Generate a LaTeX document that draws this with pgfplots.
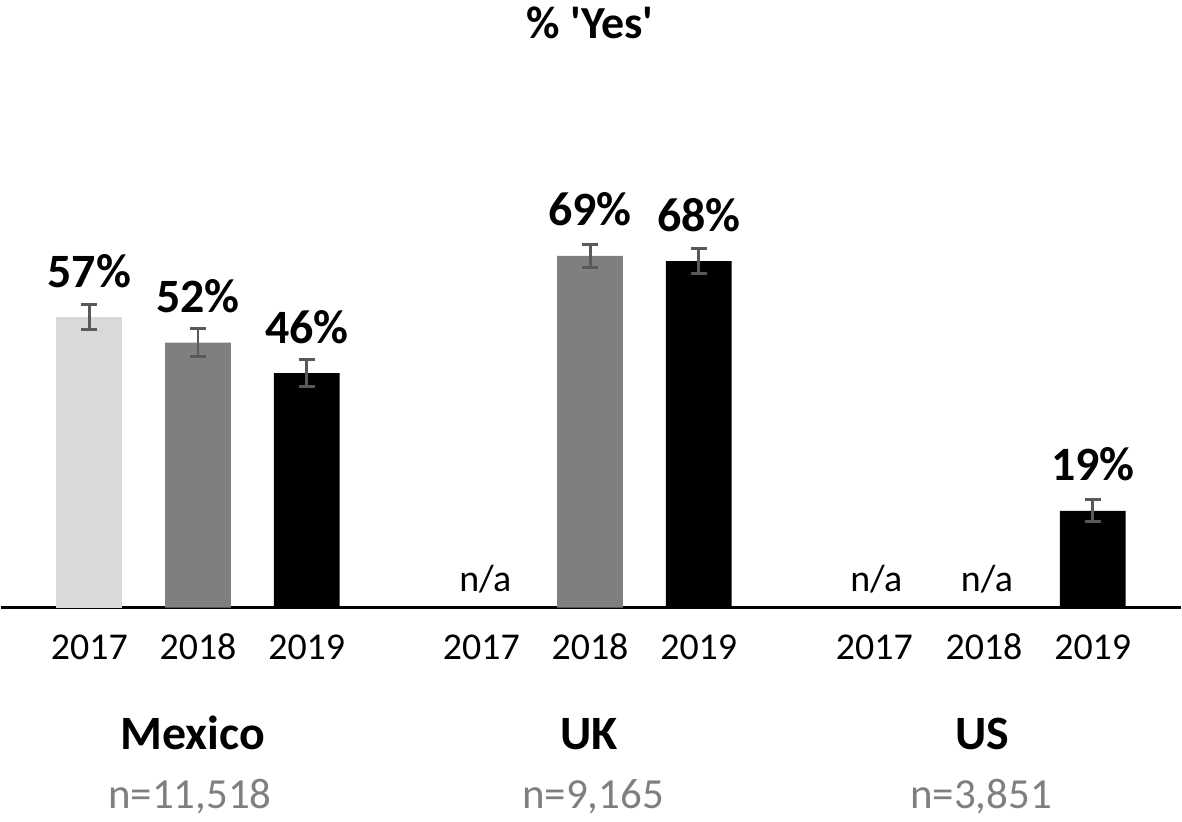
\documentclass[border=0pt]{standalone}
\usepackage{fontspec}
\setmainfont{Carlito}
\usepackage{pgfplots}
\pgfplotsset{compat=1.18}
\usepackage{pgfplotstable}

\pgfplotstableread{
x y e
88 57 2.5
}\dataA
\pgfplotstableread{
x y e
197 52 2.7
590 69 2.3
}\dataB
\pgfplotstableread{
x y e
306 46 2.6
699 68 2.5
1094 19 2.2
}\dataC

\definecolor{c17}{HTML}{D9D9D9}
\definecolor{c18}{HTML}{7F7F7F}
\definecolor{errc}{HTML}{595959}
\definecolor{ngray}{HTML}{7F7F7F}

\begin{document}
\begin{tikzpicture}
\begin{axis}[
 x=0.5pt, y=2.555pt,
 xmin=0, xmax=1182, ymin=0, ymax=119,
 axis x line*=bottom, axis y line=none,
 x axis line style={line width=1.5pt},
 xtick={88,197,306,481,590,699,875,985,1094},
 xticklabels={2017,2018,2019,2017,2018,2019,2017,2018,2019},
 xticklabel style={anchor=base, yshift=-26pt, font=\fontsize{19}{20}\selectfont},
 major tick length=0pt,
 ytick=\empty,
 clip=false,
 ybar, bar width=33pt,
 /pgf/bar shift=0pt,
 nodes near coords={\pgfmathprintnumber{\pgfplotspointmeta}\%},
 nodes near coords style={anchor=base, yshift=15pt, font=\bfseries\fontsize{24}{26}\selectfont, text=black},
 /pgf/number format/assume math mode=true,
 error bars/y dir=both, error bars/y explicit,
 error bars/error bar style={line width=1.5pt, color=errc},
 error bars/error mark options={rotate=90, mark size=4pt, line width=1.5pt, color=errc},
]
\addplot[fill=c17, draw=none, bar shift=0pt] table[x=x, y=y, y error=e]{\dataA};
\addplot[fill=c18, draw=none, bar shift=0pt] table[x=x, y=y, y error=e]{\dataB};
\addplot[fill=black, draw=none, bar shift=0pt] table[x=x, y=y, y error=e]{\dataC};

\node[font=\bfseries\fontsize{23}{25}\selectfont, anchor=base] at (axis cs:590,111.7) {\% \textquotesingle Yes\textquotesingle};

\node[font=\fontsize{19}{20}\selectfont, anchor=base] at (axis cs:485,3.13) {n/a};
\node[font=\fontsize{19}{20}\selectfont, anchor=base] at (axis cs:877,3.13) {n/a};
\node[font=\fontsize{19}{20}\selectfont, anchor=base] at (axis cs:988,3.13) {n/a};

\node[font=\bfseries\fontsize{24}{26}\selectfont, anchor=base] at (axis cs:192,-27.8) {Mexico};
\node[font=\bfseries\fontsize{24}{26}\selectfont, anchor=base] at (axis cs:589,-27.8) {UK};
\node[font=\bfseries\fontsize{24}{26}\selectfont, anchor=base] at (axis cs:983,-27.8) {US};

\node[font=\fontsize{21.5}{23}\selectfont, text=ngray, anchor=base] at (axis cs:189,-39.5) {n=11,518};
\node[font=\fontsize{21.5}{23}\selectfont, text=ngray, anchor=base] at (axis cs:593,-39.5) {n=9,165};
\node[font=\fontsize{21.5}{23}\selectfont, text=ngray, anchor=base] at (axis cs:982,-39.5) {n=3,851};

\path (axis cs:0,-41.49) rectangle (axis cs:1182,119);
\end{axis}
\end{tikzpicture}
\end{document}
